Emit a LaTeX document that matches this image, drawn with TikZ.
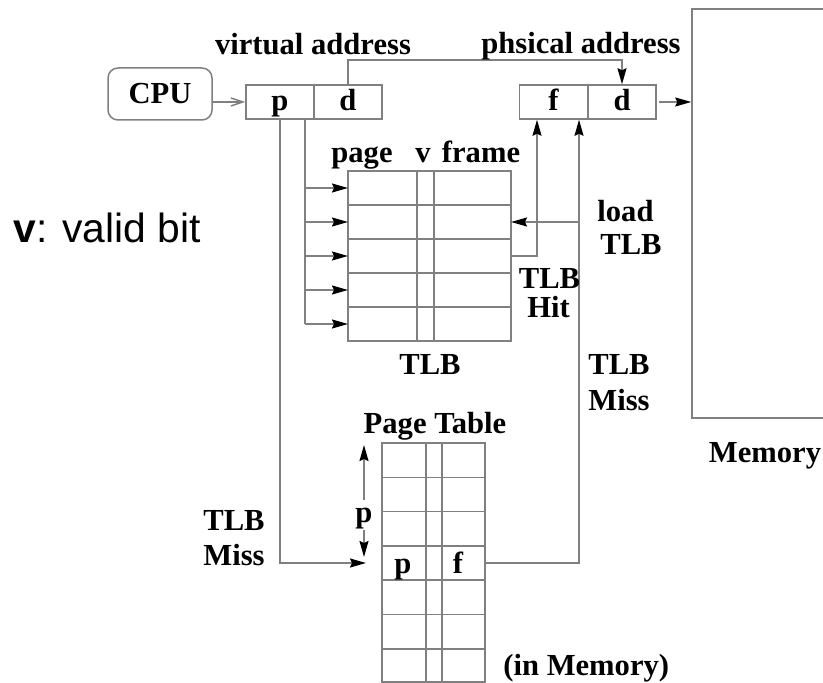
\documentclass[tikz,border=0pt]{standalone}
\usepackage{fontspec}
\setmainfont{Liberation Serif}
\setsansfont{Liberation Sans}
\usetikzlibrary{arrows.meta}

\begin{document}
\begin{tikzpicture}[x=0.5pt, y=-0.5pt,
		wire/.style={draw=gray, line width=0.75pt},
		arr/.style={wire, -{Stealth[length=8pt, width=4.5pt, inset=1pt, color=black]}},
		barb/.style={wire, -{Straight Barb[length=6pt, width=4pt]}},
		lbl/.style={font=\fontsize{15.3}{17}\selectfont\bfseries, inner sep=0pt, anchor=base},
		field/.style={wire, minimum width=34pt, minimum height=17pt, inner sep=0pt,
			text height=10.4pt, text depth=1.5pt, font=\fontsize{15.3}{17}\selectfont\bfseries}]
		\clip (0,0) rectangle (823,683);
		
		% CPU, virtual and physical address
		\node[wire, rounded corners=5pt, minimum width=52pt, minimum height=26pt,
			font=\fontsize{15.3}{17}\selectfont\bfseries] (cpu) at (160,94) {CPU};
		\node[field] (vp) at (280,102) {p};
		\node[field] (vd) at (348,102) {d};
		\node[field] (pf) at (553.5,102) {f};
		\node[field] (pd) at (622,102) {d};
		\node[wire, minimum width=110pt, minimum height=204.5pt] (mem) at (802,213.5) {};
		
		% TLB
		\draw[wire] (348,171) rectangle (511,341);
		\foreach \y in {205,239,273,307}
		\draw[wire] (348,\y) -- (511,\y);
		\foreach \x in {417,434}
		\draw[wire] (\x,171) -- (\x,341);
		\foreach \i in {1,...,5} {
			\coordinate (tin\i) at (348,{154+34*\i});
			\coordinate (tout\i) at (511,{154+34*\i});
		}
		
		% Page table
		\draw[wire] (382,443) rectangle (485,682);
		\foreach \i in {1,...,6}
		\draw[wire] (382,{443+34.3*\i}) -- (485,{443+34.3*\i});
		\foreach \x in {426,442}
		\draw[wire] (\x,443) -- (\x,682);
		\coordinate (ptin) at (366,563);
		\coordinate (ptout) at (485,563);
		\coordinate (pttop) at (364,445);
		\coordinate (ptrow) at (364,557);
		
		% Taps on the address fields
		\coordinate (vpr) at ([xshift=12.5pt]vp.south);
		\coordinate (pfl) at ([xshift=-8.25pt]pf.south);
		\coordinate (pfr) at ([xshift=12.75pt]pf.south);
		\coordinate (bend) at (0,60);
		
		% Connectors
		\draw[barb] (cpu.east |- vp.west) -- (vp.west);
		\draw[arr] (vd.north) -- (vd.north |- bend) -| (pd.north);
		\draw[arr] ([xshift=1pt]pd.east) -- (pd.east -| mem.west);
		\draw[wire] (vpr) -- (vpr |- tin5);
		\foreach \i in {1,...,5}
		\draw[arr] (vpr |- tin\i) -- (tin\i);
		\draw[arr] (vp.south) |- (ptin);
		\draw[arr] (tout3) -| (pfl);
		\draw[arr] (ptout) -| (pfr);
		\draw[arr] (pfr |- tout2) -- (tout2);
		
		% Index p into the page table
		\node[lbl, anchor=center, text height=10.4pt, text depth=3pt, inner sep=0.5pt] (prange) at (364,515) {p};
		\draw[arr] (prange.north) -- (pttop);
		\draw[arr] (prange.south) -- (ptrow);
		
		% Labels
		\node[lbl] (va) at (313,55) {virtual address};
		\node[lbl] (pa) at (581,54) {phsical address};
		\node[lbl] (hpage) at (362,163) {page};
		\node[lbl] (hv) at (423,163) {v};
		\node[lbl] (hframe) at (481,163) {frame};
		\node[lbl] (tlb) at (430,375) {TLB};
		\node[lbl] (pt) at (435,433) {Page Table};
		\node[lbl] (ptp) at (403,573) {p};
		\node[lbl] (ptf) at (458,573) {f};
		\node[lbl, anchor=base west] (miss1) at (203,530) {TLB};
		\node[lbl, anchor=base west] (miss2) at (203,565) {Miss};
		\node[lbl] (hit1) at (549.5,289) {TLB};
		\node[lbl] (hit2) at (548.5,318) {Hit};
		\node[lbl, anchor=base west] (load1) at (597,222) {load};
		\node[lbl, anchor=base west] (load2) at (600,255) {TLB};
		\node[lbl, anchor=base west] (rmiss1) at (588,375) {TLB};
		\node[lbl, anchor=base west] (rmiss2) at (588,410) {Miss};
		\node[lbl] (memlbl) at (765,462) {Memory};
		\node[lbl, anchor=base west] (inmem) at (503,675) {(in Memory)};
		\node[anchor=base west, inner sep=0pt, font=\sffamily\fontsize{20.4}{24}\selectfont] (vbit) at (13,243) {\textbf{v}: valid bit};
	\end{tikzpicture}
\end{document}
